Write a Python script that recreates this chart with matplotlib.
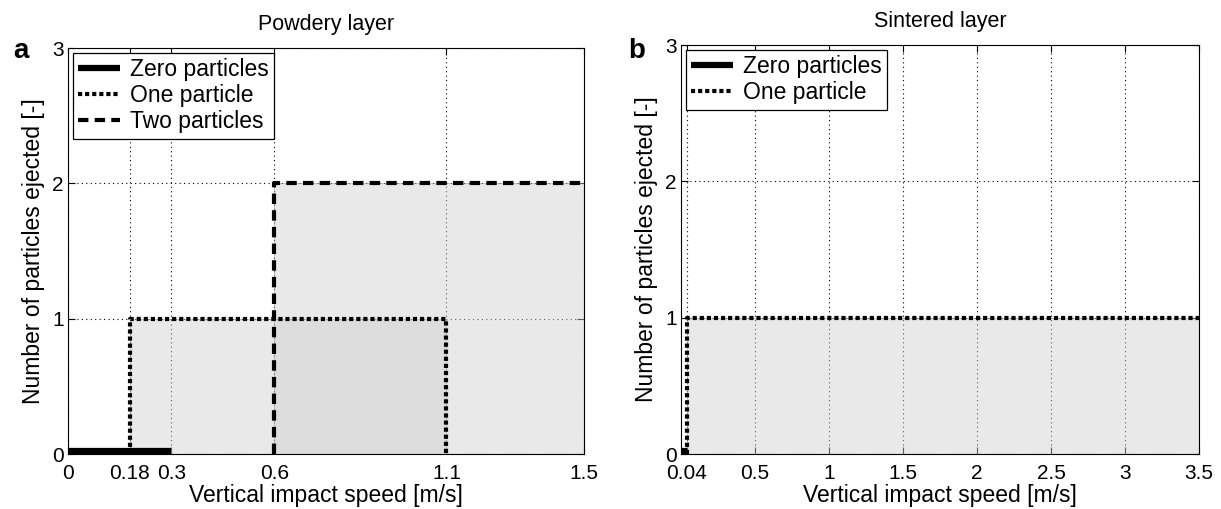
import matplotlib
matplotlib.use("Agg")
from matplotlib import pyplot as plt
import numpy as np

plt.rcParams['font.family'] = ['Liberation Sans', 'DejaVu Sans']

# panel a: powdery layer
xa_zero = [0, 0.3]
ya_zero = [0.02, 0.02]
xa_one = [0.18, 0.18, 1.1, 1.1]
ya_one = [0, 1, 1, 0]
xa_two = [0.6, 0.6, 1.5]
ya_two = [0, 2, 2]
xa_ticks = [0, 0.18, 0.3, 0.6, 1.1, 1.5]
xa_labels = ['0', '0.18', '0.3', '0.6', '1.1', '1.5']

# panel b: sintered layer
xb_zero = [0, 0.04]
yb_zero = [0.02, 0.02]
xb_one = [0.04, 0.04, 3.5]
yb_one = [0, 1, 1]
xb_ticks = [0.04, 0.5, 1, 1.5, 2, 2.5, 3, 3.5]
xb_labels = ['0.04', '0.5', '1', '1.5', '2', '2.5', '3', '3.5']

yticks = [0, 1, 2, 3]

W, H = 1221, 509
fig = plt.figure(figsize=(W/100, H/100), dpi=100)
ax1 = fig.add_axes([68/W, 1-454/H, 516/W, 406/H])
ax2 = fig.add_axes([681/W, 1-454/H, 518/W, 409/H])

def style(ax, xt, xl, xmax, title, letter, lx):
    ax.set_xlim(0, xmax)
    ax.set_ylim(0, 3)
    ax.set_xticks(xt)
    ax.set_xticklabels(xl)
    ax.set_yticks(yticks)
    ax.tick_params(direction='in', length=5, labelsize=15, top=True, right=True)
    ax.tick_params(axis='x', pad=7)
    ax.tick_params(axis='y', pad=3)
    ax.grid(True, color='black', linestyle=(0, (1, 3)), linewidth=0.8)
    ax.set_axisbelow(True)
    ax.set_xlabel('Vertical impact speed [m/s]', fontsize=16.5, labelpad=1)
    ax.set_ylabel('Number of particles ejected [-]', fontsize=16.5, labelpad=5)
    ax.set_title(title, fontsize=15.5, pad=13)
    fig.text(lx, 1-51/H, letter, fontsize=20, fontweight='bold', va='center')

def add_legend(ax):
    leg = ax.legend(loc='upper left', fontsize=16.5, fancybox=False, edgecolor='black', framealpha=1,
                    handlelength=1.8, handletextpad=0.45, borderaxespad=0.2,
                    labelspacing=0.12, borderpad=0.25)
    leg.get_frame().set_linewidth(0.9)

# fills
ax1.fill_between(xa_one[1:3], 0, 1, color='#d0d0d0', alpha=0.45, edgecolor='#888888', linewidth=0.8, zorder=2)
ax1.fill_between(xa_two[1:], 0, 2, color='#d0d0d0', alpha=0.45, edgecolor='#888888', linewidth=0.8, zorder=2)
ax1.plot(xa_zero, ya_zero, color='black', linewidth=4.5, solid_capstyle='butt', label='Zero particles', zorder=4)
ax1.plot(xa_one, ya_one, color='black', linewidth=3, linestyle=(0, (1, 0.7)), label='One particle', zorder=4)
ax1.plot(xa_two, ya_two, color='black', linewidth=3, linestyle=(0, (2.5, 1.5)), label='Two particles', zorder=4)
style(ax1, xa_ticks, xa_labels, 1.5, 'Powdery layer', 'a', 13/W)
add_legend(ax1)

ax2.fill_between(xb_one[1:], 0, 1, color='#d0d0d0', alpha=0.45, edgecolor='#888888', linewidth=0.8, zorder=2)
ax2.plot(xb_zero, yb_zero, color='black', linewidth=4.5, solid_capstyle='butt', label='Zero particles', zorder=4)
ax2.plot(xb_one, yb_one, color='black', linewidth=3, linestyle=(0, (1, 0.7)), label='One particle', zorder=4)
style(ax2, xb_ticks, xb_labels, 3.5, 'Sintered layer', 'b', 628/W)
add_legend(ax2)

fig.savefig('out.png', dpi=100)
